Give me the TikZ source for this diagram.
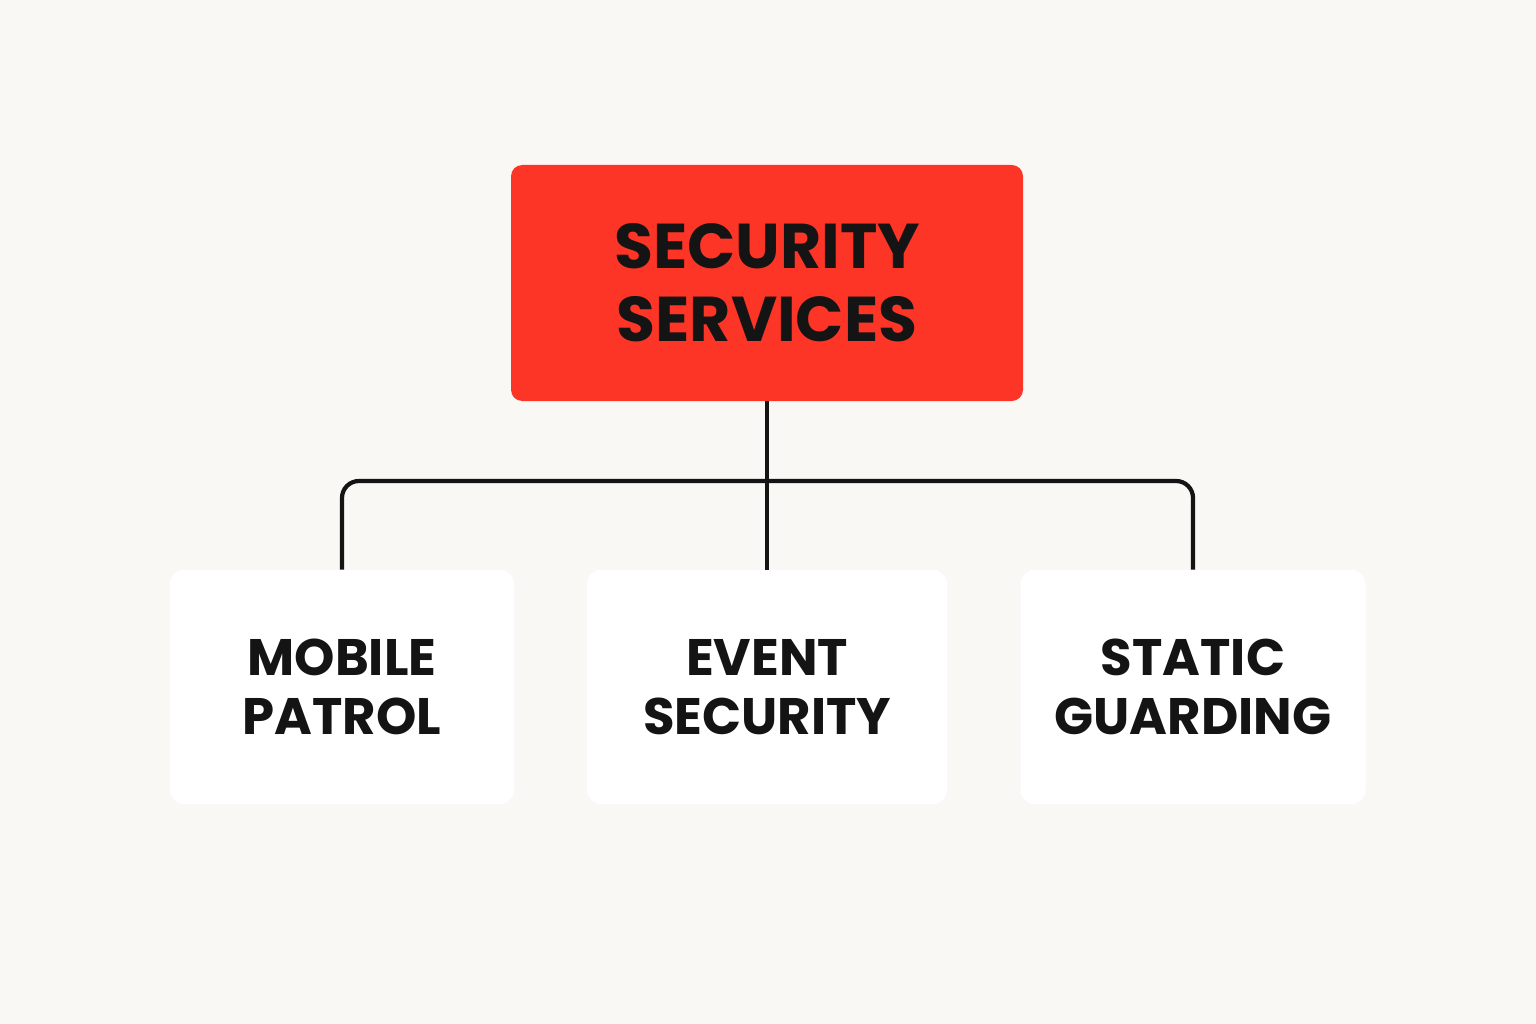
\documentclass[tikz,border=0pt]{standalone}
\usepackage{fontspec}
\setmainfont{Poppins}
\definecolor{topred}{RGB}{253,53,39}
\definecolor{ink}{RGB}{20,20,20}
\definecolor{bg}{RGB}{250,248,245}
\begin{document}
\begin{tikzpicture}[x=0.025cm,y=-0.025cm,
  top/.style={draw=none,fill=topred,rounded corners=8,minimum width=512*0.025cm,minimum height=236*0.025cm,align=center,font=\fontsize{45}{52}\selectfont\bfseries,text=ink},
  child/.style={fill=white,rounded corners=10,minimum height=234*0.025cm,align=center,font=\fontsize{36.5}{42}\selectfont\bfseries,text=ink},
  conn/.style={line width=3pt,draw=ink,rounded corners=12}]
\fill[bg] (0,0) rectangle (1536,1024);
\useasboundingbox (0,0) rectangle (1536,1024);
\node[top] (s) at (767,283) {SECURITY\\SERVICES};
\node[child,minimum width=344*0.025cm] (mp) at (342,687) {MOBILE\\PATROL};
\node[child,minimum width=360*0.025cm] (es) at (767,687) {EVENT\\SECURITY};
\node[child,minimum width=345*0.025cm] (sg) at (1193,687) {STATIC\\GUARDING};
\coordinate (j) at (767,481);
\draw[conn] (s.south) -- (es.north);
\draw[conn] (mp.north) -- (mp.north |- j) -- (sg.north |- j) -- (sg.north);
\end{tikzpicture}
\end{document}
